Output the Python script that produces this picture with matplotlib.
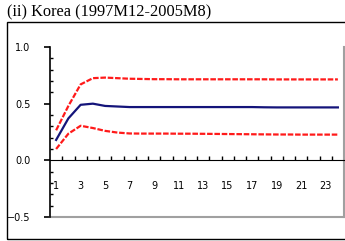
import matplotlib
matplotlib.use("Agg")
import matplotlib.pyplot as plt
from matplotlib.patches import Rectangle
from matplotlib.ticker import MultipleLocator, FixedLocator

# impulse response, Korea (1997M12-2005M8)
horizon = list(range(1, 25))
response = [0.18, 0.37, 0.49, 0.50, 0.48, 0.475, 0.47, 0.47, 0.47, 0.47, 0.47, 0.47,
            0.47, 0.47, 0.47, 0.47, 0.47, 0.468, 0.467, 0.467, 0.467, 0.467, 0.467, 0.467]
upper = [0.265, 0.48, 0.67, 0.725, 0.73, 0.725, 0.72, 0.718, 0.716, 0.716, 0.715, 0.715,
         0.715, 0.715, 0.715, 0.715, 0.715, 0.715, 0.714, 0.714, 0.714, 0.714, 0.714, 0.714]
lower = [0.10, 0.235, 0.305, 0.285, 0.26, 0.245, 0.237, 0.236, 0.236, 0.236, 0.235, 0.235,
         0.234, 0.233, 0.232, 0.231, 0.23, 0.229, 0.228, 0.228, 0.227, 0.227, 0.227, 0.227]
xlabels = [str(h) for h in horizon if h % 2 == 1]

fig = plt.figure(figsize=(3.45, 2.41), dpi=100)
fig.text(7 / 345, 1 - 12 / 241, "(ii) Korea (1997M12-2005M8)", family="Liberation Serif",
         fontsize=11.8, va="center", ha="left")
fig.patches.append(Rectangle((7 / 345, 1 - 239 / 241), 1.2, (239 - 22) / 241,
                             transform=fig.transFigure, fill=False, lw=1, ec="black"))

ax = fig.add_axes([50 / 345, 1 - 217 / 241, 294 / 345, 170 / 241])
ax.plot(horizon, upper, color="#ff1a1a", lw=1.6, ls=(0, (2.5, 0.8)))
ax.plot(horizon, lower, color="#ff1a1a", lw=1.6, ls=(0, (2.5, 0.8)))
ax.plot(horizon, response, color="#14147a", lw=1.6)

ax.set_xlim(0.5, 24.5)
ax.set_ylim(-0.5, 1.0)
ax.axhline(-0.5, color="#a0a0a0", lw=1.5, clip_on=False)

ax.spines["top"].set_visible(False)
ax.spines["right"].set_color("#a0a0a0")
ax.spines["right"].set_linewidth(1.5)
ax.spines["bottom"].set_position(("data", 0))
ax.spines["left"].set_linewidth(1.2)

ax.yaxis.set_major_locator(MultipleLocator(0.5))
ax.yaxis.set_minor_locator(MultipleLocator(0.1))
ax.set_yticks([-0.5, 0.0, 0.5, 1.0])
ax.set_yticklabels(["\u22120.5", "0.0", "0.5", "1.0"])
ax.tick_params(axis="y", which="major", direction="out", length=4, width=1.2,
               labelsize=7, pad=10)
ax.tick_params(axis="y", which="minor", direction="in", length=2.5, width=1)

ax.set_xticks([h for h in horizon if h % 2 == 1])
ax.set_xticklabels(xlabels)
ax.xaxis.set_minor_locator(FixedLocator([h + 0.5 for h in horizon]))
ax.tick_params(axis="x", which="major", length=0, labelsize=7, pad=15)
ax.tick_params(axis="x", which="minor", direction="in", length=3, width=1)

fig.savefig("out.png", dpi=100)
